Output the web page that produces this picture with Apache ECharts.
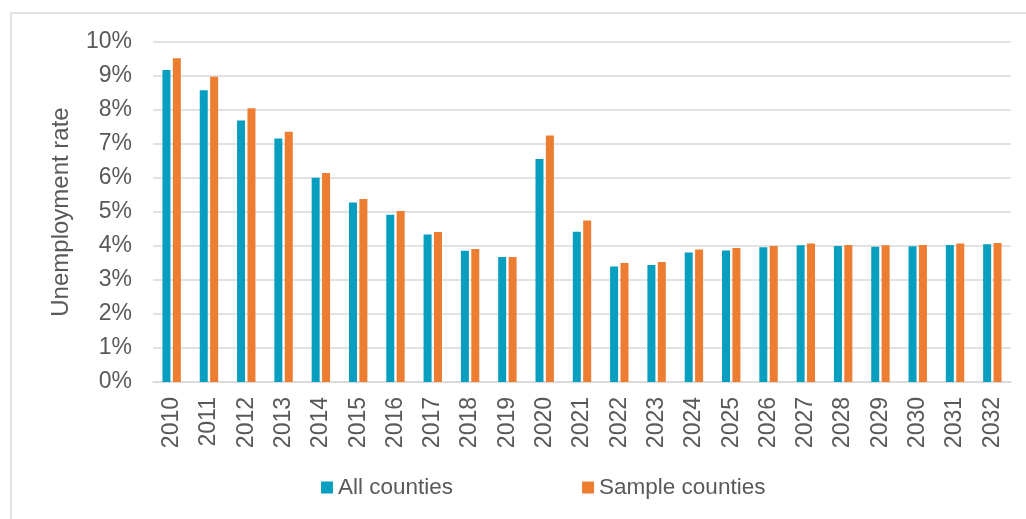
<!DOCTYPE html>
<html>
<head>
<meta charset="utf-8">
<script src="https://cdn.jsdelivr.net/npm/echarts@6/dist/echarts.min.js"></script>
<style>
html,body{margin:0;padding:0;background:#fff;}
#chart{width:1026px;height:519px;}
</style>
</head>
<body>
<div id="chart"></div>
<script>
const years = ['2010','2011','2012','2013','2014','2015','2016','2017','2018','2019','2020','2021','2022','2023','2024','2025','2026','2027','2028','2029','2030','2031','2032'];
const allCounties = [9.18,8.58,7.69,7.16,6.01,5.28,4.92,4.34,3.86,3.68,6.56,4.42,3.40,3.44,3.81,3.87,3.96,4.02,4.00,3.98,3.99,4.03,4.05];
const sampleCounties = [9.52,8.98,8.05,7.36,6.15,5.38,5.03,4.41,3.91,3.68,7.25,4.75,3.50,3.53,3.90,3.94,4.00,4.07,4.03,4.02,4.03,4.07,4.09];
const seriesNames = ['All counties','Sample counties'];
const yTicks = {min:0, max:10, interval:1};

const font = "'Liberation Sans', Arial, sans-serif";
const textColor = '#595959';
const chart = echarts.init(document.getElementById('chart'));
chart.setOption({
  animation:false,
  backgroundColor:'#fff',
  graphic:[{type:'rect', shape:{x:11,y:13,width:1040,height:540}, style:{fill:'none', stroke:'#D9D9D9', lineWidth:1.5}, silent:true}],
  grid:{left:153, right:15, top:42, bottom:137},
  legend:{
    left:316, top:471, itemWidth:12, itemHeight:12, itemGap:129,
    icon:'rect',
    textStyle:{fontFamily:font, fontSize:22.5, color:textColor},
    data:seriesNames
  },
  xAxis:{
    type:'category', data:years,
    axisLine:{lineStyle:{color:'#D9D9D9', width:1.5}},
    axisTick:{show:false},
    axisLabel:{rotate:90, margin:15, fontFamily:font, fontSize:23, color:textColor, interval:0}
  },
  yAxis:{
    type:'value', min:yTicks.min, max:yTicks.max, interval:yTicks.interval,
    name:'Unemployment rate', nameLocation:'middle', nameGap:80, nameRotate:90,
    nameTextStyle:{fontFamily:font, fontSize:24, color:textColor},
    axisLine:{show:false}, axisTick:{show:false},
    axisLabel:{formatter:'{value}%', margin:21, fontFamily:font, fontSize:23, color:textColor},
    splitLine:{lineStyle:{color:'#D9D9D9', width:1.5}}
  },
  series:[
    {name:seriesNames[0], type:'bar', data:allCounties, barWidth:8, barGap:'30%', itemStyle:{color:'#079EBF'}},
    {name:seriesNames[1], type:'bar', data:sampleCounties, barWidth:8, barGap:'30%', itemStyle:{color:'#ED7D31'}}
  ]
});
</script>
</body>
</html>
